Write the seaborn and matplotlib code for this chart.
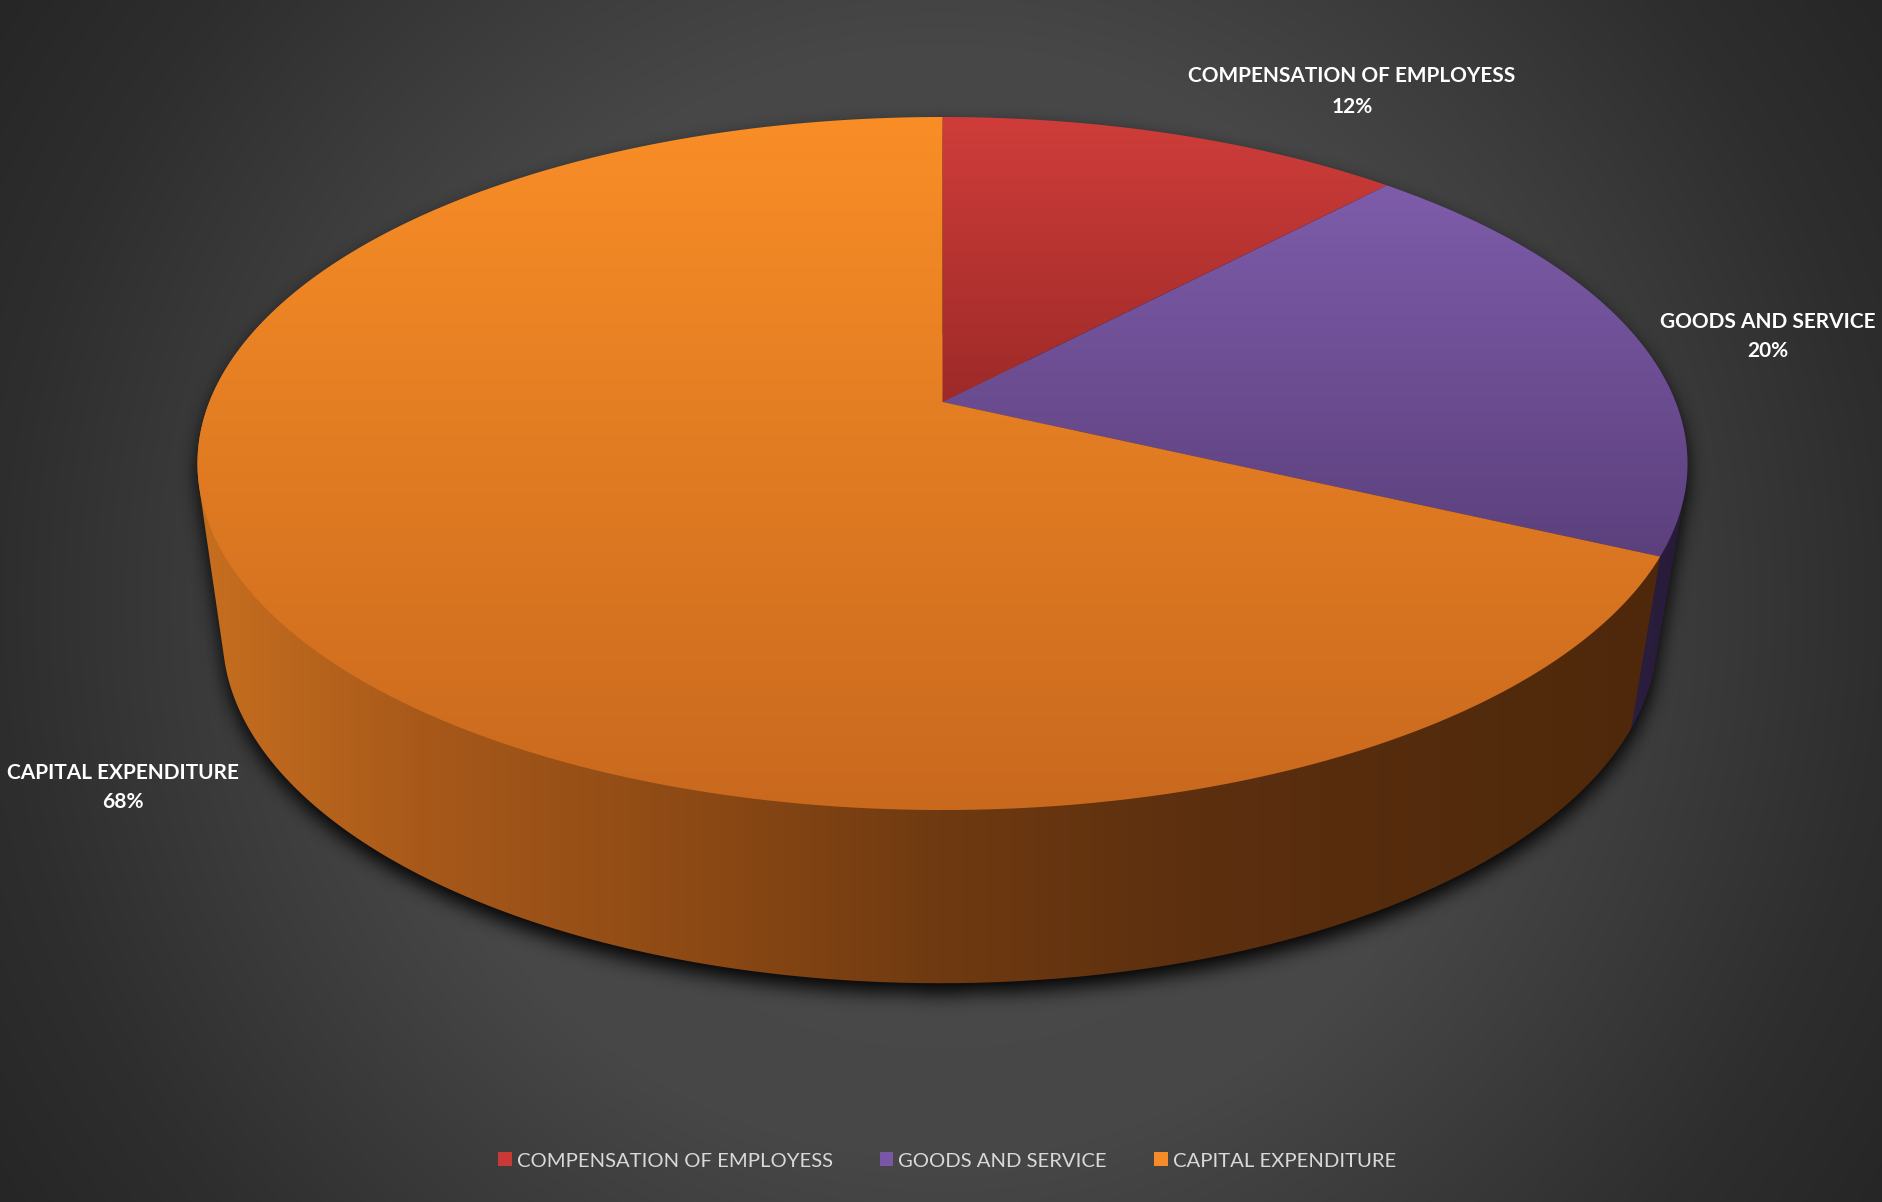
import numpy as np
import matplotlib
matplotlib.use("Agg")
import matplotlib.pyplot as plt
import seaborn as sns
from matplotlib.patches import Polygon, Patch
from matplotlib.path import Path
from matplotlib.colors import to_rgb

# ---------------- data ----------------
categories = ["COMPENSATION OF EMPLOYESS", "GOODS AND SERVICE", "CAPITAL EXPENDITURE"]
shares = [12, 20, 68]
pct_labels = ["12%", "20%", "68%"]
top_light = ["#CF3D3A", "#7E5CAA", "#F98E27"]
top_dark = ["#9D2A28", "#5C407D", "#C9691E"]
legend_colors = ["#C93A37", "#7A56A6", "#F68B28"]

W, H = 1883, 1202
sns.set_theme(style="dark")
plt.rcParams["font.family"] = ["Lato", "DejaVu Sans"]

fig = plt.figure(figsize=(W / 100, H / 100), dpi=100)
ax = fig.add_axes([0, 0, 1, 1])
ax.set_xlim(0, W)
ax.set_ylim(H, 0)
ax.axis("off")

# ---------------- background (radial gradient) ----------------
yy, xx = np.mgrid[0:H:2, 0:W:2]
r = np.hypot(xx - W / 2, yy - H / 2) / np.hypot(W / 2, H / 2)
bgv = np.interp(r, [0, 0.5, 0.84, 1.0], [76, 71, 46, 38]) / 255
ax.imshow(np.dstack([bgv] * 3), extent=(0, W, H, 0), zorder=0,
          interpolation="bilinear", aspect="auto")

# ---------------- perspective pie geometry ----------------
K = 0.1775
TOP = dict(cx=942.5, cy=402.0, a=733.2, b=335.6)
BOT = dict(cx=940.0, cy=573.5, a=706.0, b=337.0)


def ring(theta_deg, cx, cy, a, b):
    t = np.radians(theta_deg)
    u = np.sin(t)
    v = -np.cos(t)
    w = 1 - K * v
    return np.column_stack([cx + a * u / w, cy + b * v / w])


def hull(points):
    p = sorted(map(tuple, points))

    def cross(o, a, b):
        return (a[0] - o[0]) * (b[1] - o[1]) - (a[1] - o[1]) * (b[0] - o[0])

    lower, upper = [], []
    for q in p:
        while len(lower) >= 2 and cross(lower[-2], lower[-1], q) <= 0:
            lower.pop()
        lower.append(q)
    for q in reversed(p):
        while len(upper) >= 2 and cross(upper[-2], upper[-1], q) <= 0:
            upper.pop()
        upper.append(q)
    return np.array(lower[:-1] + upper[:-1])


total = float(sum(shares))
edges = np.concatenate([[0], np.cumsum(shares)]) / total * 360.0

# ---------------- shadow ----------------
full_top = ring(np.linspace(0, 360, 720), **TOP)
full_bot = ring(np.linspace(0, 360, 720), **BOT)
silhouette = hull(np.vstack([full_top, full_bot]))
gy, gx = np.mgrid[0:H:2, 0:W:2]
pts = np.column_stack([gx.ravel(), gy.ravel()])
shift = np.array([0, 9])
m = Path(silhouette + shift).contains_points(pts).reshape(gx.shape).astype(float)


def box_blur(a, rad):
    for axis in (0, 1):
        pad = [(0, 0), (0, 0)]
        pad[axis] = (rad + 1, rad)
        c = np.cumsum(np.pad(a, pad, mode="edge"), axis=axis)
        if axis == 0:
            a = (c[2 * rad + 1:, :] - c[:-2 * rad - 1, :]) / (2 * rad + 1)
        else:
            a = (c[:, 2 * rad + 1:] - c[:, :-2 * rad - 1]) / (2 * rad + 1)
    return a


for _ in range(3):
    m = box_blur(m, 4)
shadow = np.zeros(m.shape + (4,))
shadow[..., 3] = np.clip(m * 0.95, 0, 1)
ax.imshow(shadow, extent=(0, W, H, 0), zorder=1, interpolation="bilinear", aspect="auto")


def grad_fill(poly_pts, stops_pos, stops_cols, axis, z):
    patch = Polygon(poly_pts, closed=True, facecolor="none", edgecolor="none", zorder=z)
    ax.add_patch(patch)
    n = W if axis == "x" else H
    pos = np.arange(n) + 0.5
    cols = np.array([to_rgb(c) for c in stops_cols])
    arr = np.stack([np.interp(pos, stops_pos, cols[:, i]) for i in range(3)], axis=-1)
    arr = arr[None, :, :] if axis == "x" else arr[:, None, :]
    im = ax.imshow(arr, extent=(0, W, H, 0), zorder=z, interpolation="bilinear", aspect="auto")
    im.set_clip_path(patch)


# ---------------- side faces (purple first, orange over it) ----------------
side_stops_x = [220, 420, 720, 940, 1200, 1500, 1660]
side_orange = ["#C46D1F", "#A8591A", "#8A4814", "#6F3A11", "#5C2F0F", "#522A0C", "#4F280B"]
side_purple_x = [1500, 1620, 1700]
side_purple = ["#35254B", "#2C1E3F", "#271A38"]
for i in (1, 2):
    t0, t1 = max(edges[i], 45.0), min(edges[i + 1], 315.0)
    th = np.linspace(t0, t1, 400)
    poly = hull(np.vstack([ring(th, **TOP), ring(th, **BOT)]))
    if i == 2:
        grad_fill(poly, side_stops_x, side_orange, "x", 2.5)
    else:
        grad_fill(poly, side_purple_x, side_purple, "x", 2.2)

# ---------------- top faces ----------------
apex = np.array([[TOP["cx"], TOP["cy"]]])
for i in range(len(shares)):
    th = np.linspace(edges[i], edges[i + 1], 400)
    arc = ring(th, **TOP)
    poly = np.vstack([apex, arc])
    y0, y1 = poly[:, 1].min(), poly[:, 1].max()
    grad_fill(poly, [y0, y1], [top_light[i], top_dark[i]], "y", 3)

# ---------------- data labels ----------------
label_pos = [(1352, 76, 107), (1768, 322, 351), (123, 773, 802)]
for (x, y1, y2), cat, pct in zip(label_pos, categories, pct_labels):
    ax.text(x, y1, cat, ha="center", va="center", color="white",
            fontsize=15, fontweight="bold", zorder=5)
    ax.text(x, y2, pct, ha="center", va="center", color="white",
            fontsize=15, fontweight="bold", zorder=5)

# ---------------- legend ----------------
handles = [Patch(facecolor=c, edgecolor="none", label=l) for c, l in zip(legend_colors, categories)]
leg = ax.legend(handles=handles, loc="center", bbox_to_anchor=(947 / W, 1 - 1161 / H),
                bbox_transform=fig.transFigure, ncol=3, frameon=False, fontsize=14.6,
                labelcolor="#D9D9D9", handlelength=0.68, handleheight=0.68,
                handletextpad=0.25, columnspacing=2.3, borderaxespad=0)
leg.set_zorder(6)

fig.savefig("out.png", dpi=100, facecolor="#2a2a2a")
